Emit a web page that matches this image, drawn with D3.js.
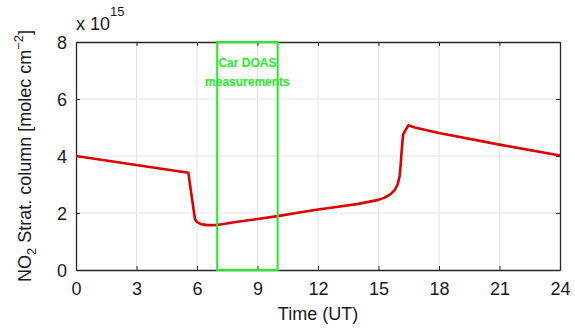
<!DOCTYPE html>
<html>
<head>
<meta charset="utf-8">
<script src="https://cdn.jsdelivr.net/npm/d3@7"></script>
<style>
  html, body { margin: 0; padding: 0; background: #fff; }
  text { font-family: "Liberation Sans", Arial, Helvetica, sans-serif; }
</style>
</head>
<body>
<svg id="chart" width="575" height="335"></svg>
<script>
// Stratospheric NO2 column over one day (units of 1e15 molec cm^-2)
const timeUT = [0, 5.57, 5.9, 6.0, 6.2, 6.5, 6.8, 7, 8, 9, 10, 11, 12, 13, 14, 15, 15.3, 15.6, 15.8, 15.95, 16.05, 16.1, 16.15, 16.22, 16.48, 16.8, 18, 21, 24];
const no2Strat = [4.0, 3.41, 1.78, 1.68, 1.61, 1.575, 1.575, 1.58, 1.69, 1.79, 1.89, 2.01, 2.12, 2.22, 2.32, 2.46, 2.54, 2.66, 2.8, 3.0, 3.3, 3.7, 4.2, 4.75, 5.08, 5.0, 4.81, 4.4, 4.02];

const xTicks = [0, 3, 6, 9, 12, 15, 18, 21, 24];
const yTicks = [0, 2, 4, 6, 8];

// Period of the car DOAS measurements (UT hours)
const campaignWindow = [7, 10];
const campaignLabel = ["Car DOAS", "measurements"];

(function draw() {
  const svg = d3.select("#chart");
  const m = { left: 76, right: 15, top: 42, bottom: 65 };
  const W = 575, H = 335;
  const x = d3.scaleLinear().domain([0, 24]).range([m.left, W - m.right]);
  const y = d3.scaleLinear().domain([0, 8]).range([H - m.bottom, m.top]);

  const axisColor = "#262626";

  // grid
  const grid = svg.append("g");
  grid.selectAll("line.gx").data(xTicks.slice(1, -1)).join("line").attr("class", "gx")
    .attr("x1", d => x(d)).attr("x2", d => x(d))
    .attr("y1", y(0)).attr("y2", y(8))
    .attr("stroke", "#e3e3e3").attr("stroke-width", 1);
  grid.selectAll("line.gy").data(yTicks.slice(1, -1)).join("line").attr("class", "gy")
    .attr("y1", d => y(d)).attr("y2", d => y(d))
    .attr("x1", x(0)).attr("x2", x(24))
    .attr("stroke", "#e3e3e3").attr("stroke-width", 1);

  // axes with inward ticks (bottom/top, left/right)
  const fmt = d3.format("d");
  const axBottom = svg.append("g").attr("transform", `translate(0,${y(0)})`)
    .call(d3.axisBottom(x).tickValues(xTicks).tickFormat(fmt).tickSizeInner(-4).tickSizeOuter(0).tickPadding(12));
  const axTop = svg.append("g").attr("transform", `translate(0,${y(8)})`)
    .call(d3.axisTop(x).tickValues(xTicks).tickFormat("").tickSizeInner(-4).tickSizeOuter(0));
  const axLeft = svg.append("g").attr("transform", `translate(${x(0)},0)`)
    .call(d3.axisLeft(y).tickValues(yTicks).tickFormat(fmt).tickSizeInner(-4).tickSizeOuter(0).tickPadding(9));
  const axRight = svg.append("g").attr("transform", `translate(${x(24)},0)`)
    .call(d3.axisRight(y).tickValues(yTicks).tickFormat("").tickSizeInner(-4).tickSizeOuter(0));

  [axBottom, axTop, axLeft, axRight].forEach(g => {
    g.select(".domain").attr("stroke", axisColor).attr("stroke-width", 1.3);
    g.selectAll(".tick line").attr("stroke", axisColor).attr("stroke-width", 1);
    g.selectAll(".tick text").attr("fill", "#1a1a1a").style("font-size", "18px")
      .style("font-family", "'Liberation Sans', Arial, sans-serif");
  });
  axLeft.selectAll(".tick text").attr("dy", "0.36em");

  // data curve
  svg.append("path")
    .datum(timeUT.map((t, i) => [t, no2Strat[i]]))
    .attr("fill", "none")
    .attr("stroke", "#dd0000")
    .attr("stroke-width", 2.6)
    .attr("stroke-linejoin", "round")
    .attr("d", d3.line().x(d => x(d[0])).y(d => y(d[1])));

  // measurement window box
  svg.append("rect")
    .attr("x", x(campaignWindow[0])).attr("y", y(8))
    .attr("width", x(campaignWindow[1]) - x(campaignWindow[0]))
    .attr("height", y(0) - y(8))
    .attr("fill", "none").attr("stroke", "#22ee22").attr("stroke-width", 2);

  const cx = x((campaignWindow[0] + campaignWindow[1]) / 2);
  svg.append("g").selectAll("text").data(campaignLabel).join("text")
    .attr("x", cx).attr("y", (d, i) => 67 + i * 19)
    .attr("text-anchor", "middle")
    .attr("fill", "#22ee22").style("font-weight", "bold").style("font-size", "12px")
    .text(d => d);

  // exponent label
  const ex = svg.append("text").attr("x", x(0)).attr("y", 30)
    .attr("fill", "#1a1a1a").style("font-size", "18px");
  ex.append("tspan").text("x 10");
  ex.append("tspan").attr("dy", -14).style("font-size", "13px").text("15");

  // axis titles
  svg.append("text")
    .attr("x", (x(0) + x(24)) / 2).attr("y", 320)
    .attr("text-anchor", "middle").attr("fill", "#1a1a1a").style("font-size", "18px")
    .text("Time (UT)");

  const yl = svg.append("text")
    .attr("transform", `translate(31,${(y(0) + y(8)) / 2}) rotate(-90)`)
    .attr("text-anchor", "middle").attr("fill", "#1a1a1a").style("font-size", "18px");
  yl.append("tspan").text("NO");
  yl.append("tspan").attr("dy", 5).style("font-size", "13px").text("2");
  yl.append("tspan").attr("dy", -5).text(" Strat. column [molec cm");
  yl.append("tspan").attr("dy", -8).style("font-size", "13px").text("−2");
  yl.append("tspan").attr("dy", 8).text("]");
})();
</script>
</body>
</html>
